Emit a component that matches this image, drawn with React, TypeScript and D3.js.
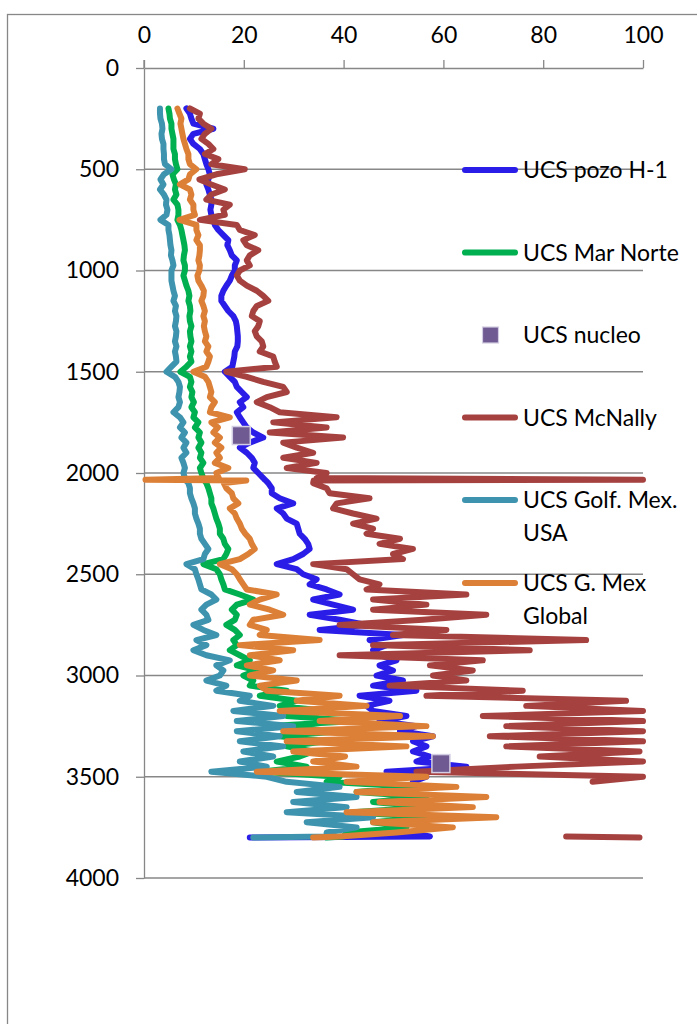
import React, { useEffect, useRef } from "react";
import * as d3 from "d3";

// depth (m), shared by every log series
const depths = [
  200, 225, 250, 275, 300, 325, 350, 375, 400, 425, 450, 475, 500, 525, 550, 575, 600, 625, 650, 675,
  700, 725, 750, 775, 800, 825, 850, 875, 900, 925, 950, 975, 1000, 1025, 1050, 1075, 1100, 1125, 1150, 1175,
  1200, 1225, 1250, 1275, 1300, 1325, 1350, 1375, 1400, 1425, 1450, 1475, 1500, 1525, 1550, 1575, 1600, 1625, 1650, 1675,
  1700, 1725, 1750, 1775, 1800, 1825, 1850, 1875, 1900, 1925, 1950, 1975, 2000, 2025, 2033, 2037, 2050, 2075, 2100, 2125, 2150, 2175,
  2200, 2225, 2250, 2275, 2300, 2325, 2350, 2375, 2400, 2425, 2450, 2475, 2500, 2525, 2550, 2575, 2600, 2625, 2650, 2675,
  2700, 2725, 2750, 2775, 2800, 2825, 2850, 2875, 2900, 2925, 2950, 2975, 3000, 3025, 3050, 3075, 3100, 3125, 3150, 3175,
  3200, 3225, 3250, 3275, 3300, 3325, 3350, 3375, 3400, 3425, 3450, 3475, 3500, 3525, 3550, 3575, 3600, 3625, 3650, 3675,
  3700, 3725, 3750, 3775, 3795, 3800,
];

const ucsPozoH1 = [
  8.5, 9.2, 9.5, 9.9, 13.9, 9.9, 9.2, 9.9, 11.2, 11.9, 12.2, 12.5, 12.9, 13.2, 12.9, 12.5, 12.9, 13.2, 13.5, 13.5,
  13.3, 13.5, 13.9, 14.2, 14.9, 15.9, 16.9, 16.7, 17.2, 17.6, 18.6, 18.2, 18.2, 17.6, 17.2, 16.5, 15.9, 15.5, 15.5, 16.2,
  16.9, 17.9, 18.4, 18.6, 18.7, 18.8, 18.8, 18.7, 18.2, 18.1, 17.9, 17.7, 16.2, 17.2, 18.2, 18.6, 19.6, 20.6, 19.2, 19.9,
  18.6, 19.2, 19.9, 20.6, 21.9, 23.9, 21.2, 19.2, 20.6, 21.6, 22.2, 21.9, 22.9, 23.9, 24.2, 24.4, 24.9, 25.6, 25.6, 27.2, 29.9, 26.6,
  27.9, 28.6, 30.6, 30.9, 31.2, 32.2, 32.9, 33.2, 31.9, 29.9, 26.6, 30.6, 31.9, 34.6, 33.2, 36.6, 39.2, 33.9, 37.9, 41.9,
  33.2, 39.2, 44.6, 35.2, 51.9, 45.2, 48.6, 45.9, 47.2, 50.6, 47.2, 49.9, 46.6, 51.9, 45.9, 54.6, 43.2, 49.2, 44.6, 45.9,
  52.6, 47.2, 54.6, 51.3, 57.9, 53.9, 56.6, 53.9, 57.3, 54.6, 64.6, 48.6, 56.6, 53.9, 55.3, 52.6, 53.9, 51.3, 52.6, 50.6,
  51.9, 49.9, 51.3, 52.6, 57.3, 21.2,
];

const ucsMarNorte = [
  4.9, 5.1, 5.2, 5.5, 5.5, 5.7, 5.9, 5.9, 5.9, 6.2, 6.2, 6.4, 6.7, 5.7, 6.0, 6.4, 6.2, 6.5, 5.9, 6.7,
  6.9, 6.9, 6.7, 7.2, 7.5, 7.7, 7.9, 8.1, 8.2, 8.0, 7.9, 8.2, 8.2, 7.9, 8.2, 8.5, 8.9, 9.1, 8.9, 9.2,
  9.3, 9.1, 9.2, 9.5, 9.2, 9.3, 9.5, 9.2, 9.5, 9.2, 9.5, 8.5, 7.3, 9.2, 9.5, 9.2, 9.7, 9.5, 10.0, 9.5,
  10.2, 9.9, 10.9, 10.2, 11.2, 10.9, 11.5, 10.9, 11.5, 11.2, 11.9, 11.2, 11.5, 11.9, 12.0, 12.1, 12.5, 12.9, 13.2, 13.5, 13.5, 13.9,
  14.2, 14.5, 14.9, 15.2, 15.2, 15.9, 16.2, 16.9, 16.5, 15.9, 11.9, 14.5, 15.2, 15.5, 15.9, 16.2, 19.2, 21.9, 18.6, 17.6,
  18.6, 18.2, 16.5, 18.2, 19.2, 17.9, 18.6, 17.2, 19.2, 21.2, 18.6, 22.6, 19.9, 21.9, 21.2, 28.6, 23.2, 30.6, 27.2, 36.6,
  28.6, 42.6, 24.6, 39.2, 27.2, 36.6, 28.6, 33.9, 31.2, 26.6, 32.6, 23.2, 39.2, 36.6, 53.9, 42.6, 56.6, 45.9, 56.6, 41.9,
  56.6, 45.9, 52.6, 40.6, 40.0, 36.6,
];

const ucsMcNally = [
  9.2, 11.2, 10.9, 11.9, 13.5, 12.2, 11.5, 12.9, 13.9, 12.2, 14.9, 13.5, 20.2, 14.5, 11.1, 13.5, 16.2, 13.5, 12.5, 17.2,
  15.9, 16.2, 11.2, 18.6, 19.2, 22.2, 19.9, 20.6, 22.9, 21.2, 20.6, 21.2, 19.2, 18.6, 19.2, 20.6, 22.6, 23.9, 24.9, 22.6,
  21.9, 21.6, 23.2, 22.9, 22.2, 22.6, 23.6, 23.9, 23.2, 25.9, 26.2, 26.6, 16.5, 20.6, 23.9, 27.9, 28.6, 24.6, 22.6, 25.2,
  27.2, 38.6, 25.9, 36.6, 25.2, 39.9, 27.9, 30.6, 33.9, 27.9, 34.6, 28.6, 36.6, 34.6, 100, 34.0, 33.9, 36.6, 37.2, 45.2, 38.6, 37.9,
  41.9, 46.6, 41.9, 45.9, 44.6, 51.3, 47.2, 53.9, 49.9, 51.9, 33.9, 40.6, 41.9, 43.2, 47.2, 44.6, 64.6, 45.9, 56.6, 45.9,
  68.6, 55.9, 39.2, 60.6, 49.9, 88.6, 45.9, 77.3, 39.2, 67.9, 57.3, 65.9, 57.9, 64.6, 49.2, 75.9, 56.6, 96.6, 76.6, 100,
  67.9, 100, 72.6, 100, 69.3, 100, 72.6, 99.3, 79.3, 100, 74.6, 54.6, 100, 89.9, null, null, null, null, null, null,
  null, null, null, null, 84.6, 99.3,
];

const ucsGolfMexUsa = [
  3.2, 3.2, 3.3, 3.6, 3.7, 3.5, 3.6, 3.9, 3.9, 4.0, 4.0, 4.2, 5.5, 4.0, 3.3, 3.9, 3.2, 4.0, 4.5, 4.4,
  4.7, 4.5, 3.3, 4.9, 4.9, 5.1, 5.2, 5.3, 5.5, 5.4, 5.7, 5.9, 5.5, 5.5, 5.5, 5.7, 5.9, 6.2, 5.9, 6.4,
  6.2, 6.5, 6.4, 6.2, 6.5, 6.4, 6.2, 6.5, 6.2, 6.4, 6.5, 5.5, 4.5, 6.2, 6.9, 7.2, 7.1, 6.9, 7.2, 6.9,
  5.9, 7.2, 7.9, 7.2, 8.2, 7.5, 8.5, 7.9, 8.5, 7.5, 7.9, 8.2, 7.9, 8.2, 8.3, 8.4, 8.9, 9.2, 9.2, 9.5, 9.9, 10.2,
  10.2, 10.5, 10.9, 11.2, 11.2, 11.5, 12.2, 12.9, 12.2, 11.9, 8.5, 10.2, 10.5, 10.9, 11.2, 11.5, 13.5, 14.5, 12.5, 11.5,
  12.5, 12.9, 9.9, 11.9, 14.5, 10.5, 12.5, 9.9, 12.5, 17.2, 14.5, 15.9, 15.2, 12.5, 16.5, 14.5, 21.2, 19.2, 25.9, 17.9,
  27.9, 18.6, 29.9, 18.6, 27.2, 19.2, 27.9, 19.9, 25.9, 19.2, 24.6, 13.5, 24.6, 28.6, 39.2, 30.6, 42.6, 29.9, 40.6, 28.6,
  45.9, 32.6, 42.6, 36.6, 36.6, 21.9,
];

const ucsGMexGlobal = [
  6.7, 7.1, 7.5, 7.3, 7.5, 7.7, 7.9, 8.2, 8.5, 8.9, 8.9, 9.2, 10.5, 9.2, 8.9, 7.2, 9.2, 9.5, 9.2, 9.9,
  9.9, 10.2, 7.1, 10.5, 10.5, 10.9, 10.5, 11.2, 11.2, 11.1, 10.9, 11.2, 11.1, 10.7, 10.9, 11.5, 12.0, 11.9, 11.5, 11.9,
  12.2, 11.9, 12.2, 12.0, 12.2, 12.5, 12.2, 12.9, 12.5, 13.2, 12.9, 12.5, 9.9, 12.2, 12.9, 13.2, 13.5, 13.2, 14.2, 13.5,
  13.2, 17.2, 13.5, 14.8, 13.9, 15.2, 14.2, 15.5, 14.5, 15.2, 14.2, 16.9, 14.5, 15.0, 0.3, 20.5, 16.0, 16.5, 17.6, 17.9, 18.9, 17.2,
  18.2, 18.6, 19.2, 19.6, 20.3, 21.2, 21.6, 22.2, 20.9, 19.2, 15.2, 17.6, 18.6, 19.2, 19.9, 20.6, 26.6, 23.2, 21.2, 25.2,
  27.9, 21.9, 21.2, 24.6, 23.2, 35.2, 19.2, 29.9, 21.2, 27.2, 20.6, 25.9, 21.2, 30.6, 23.2, 24.6, 39.2, 30.6, 44.6, 27.2,
  51.3, 35.2, 56.6, 27.9, 57.9, 28.6, 52.6, 29.9, 40.3, 33.9, 42.6, 22.6, 56.6, 40.6, 62.6, 42.6, 68.6, 47.2, 65.9, 40.6,
  70.6, 45.9, 61.9, 50.6, 39.2, 33.9,
];

// core samples
const nucleoUcs = [19.5, 59.5];
const nucleoDepth = [1815, 3435];

const xTicks = [0, 20, 40, 60, 80, 100];
const yTicks = [0, 500, 1000, 1500, 2000, 2500, 3000, 3500, 4000];

const FONT = "Lato, 'Open Sans', sans-serif";
const AXIS_GRAY = "#878787";
const LINE_W = 6;

function drawChart(svgEl: SVGSVGElement) {
  const svg = d3.select(svgEl);
  svg.selectAll("*").remove();

  const xScale = d3.scaleLinear().domain([0, 100]).range([144, 643]);
  const yScale = d3.scaleLinear().domain([0, 4000]).range([68, 878]);

  // chart frame (runs past the right/bottom edge of the page)
  svg.append("rect")
    .attr("x", 7.5).attr("y", 14.5)
    .attr("width", 900).attr("height", 1200)
    .attr("fill", "#fff")
    .attr("stroke", AXIS_GRAY).attr("stroke-width", 1.3);

  // horizontal gridlines
  svg.append("g")
    .selectAll("line")
    .data(yTicks.filter((t) => t > 0))
    .join("line")
    .attr("x1", 144).attr("x2", 643)
    .attr("y1", (d) => yScale(d)).attr("y2", (d) => yScale(d))
    .attr("stroke", AXIS_GRAY).attr("stroke-width", 1.3);

  const xAxis = d3.axisTop(xScale).tickValues(xTicks).tickSize(8).tickSizeOuter(0).tickPadding(17)
    .tickFormat(d3.format("d"));
  const yAxis = d3.axisLeft(yScale).tickValues(yTicks).tickSize(8).tickSizeOuter(0).tickPadding(17)
    .tickFormat(d3.format("d"));

  const xg = svg.append("g").attr("transform", "translate(0,68)").call(xAxis);
  const yg = svg.append("g").attr("transform", "translate(144,0)").call(yAxis);
  for (const g of [xg, yg]) {
    g.select(".domain").attr("stroke", AXIS_GRAY).attr("stroke-width", 1.3);
    g.selectAll(".tick line").attr("stroke", AXIS_GRAY).attr("stroke-width", 1.3);
    g.selectAll(".tick text")
      .attr("fill", "#000")
      .style("font-family", FONT)
      .style("font-size", "23px");
  }
  // extend left axis line up to the top tick
  yg.append("line").attr("x1", 0).attr("x2", 0).attr("y1", 60).attr("y2", 68)
    .attr("stroke", AXIS_GRAY).attr("stroke-width", 1.3);

  const series = [
    { name: "UCS pozo H-1", values: ucsPozoH1, color: "#2a1de8" },
    { name: "UCS Mar Norte", values: ucsMarNorte, color: "#00b050" },
    { name: "UCS McNally", values: ucsMcNally, color: "#a54240" },
    { name: "UCS Golf. Mex. USA", values: ucsGolfMexUsa, color: "#3e94ae" },
    { name: "UCS G. Mex Global", values: ucsGMexGlobal, color: "#dd8037" },
  ];

  const line = d3.line<number | null>()
    .defined((v) => v != null)
    .x((v) => xScale(v as number))
    .y((_v, i) => yScale(depths[i]));

  svg.append("g")
    .selectAll("path")
    .data(series)
    .join("path")
    .attr("d", (s) => line(s.values))
    .attr("fill", "none")
    .attr("stroke", (s) => s.color)
    .attr("stroke-width", LINE_W)
    .attr("stroke-linecap", "round")
    .attr("stroke-linejoin", "round");

  // core markers
  svg.append("g")
    .selectAll("rect")
    .data(nucleoUcs)
    .join("rect")
    .attr("x", (d) => xScale(d) - 9)
    .attr("y", (_d, i) => yScale(nucleoDepth[i]) - 9)
    .attr("width", 18).attr("height", 18)
    .attr("fill", "#6f5a92")
    .attr("stroke", "#d2cde2").attr("stroke-width", 1.5);

  // legend
  const legendItems = [
    { lines: ["UCS pozo H-1"], color: "#2a1de8", y: 170, marker: false },
    { lines: ["UCS Mar Norte"], color: "#00b050", y: 252.5, marker: false },
    { lines: ["UCS nucleo"], color: "#6f5a92", y: 335, marker: true },
    { lines: ["UCS McNally"], color: "#a54240", y: 417.5, marker: false },
    { lines: ["UCS Golf. Mex.", "USA"], color: "#3e94ae", y: 500, marker: false },
    { lines: ["UCS G. Mex", "Global"], color: "#dd8037", y: 583, marker: false },
  ];
  const lg = svg.append("g");
  legendItems.forEach((item) => {
    if (item.marker) {
      lg.append("rect")
        .attr("x", 482.5).attr("y", item.y - 8)
        .attr("width", 16).attr("height", 16)
        .attr("fill", item.color)
        .attr("stroke", "#d2cde2").attr("stroke-width", 1.2);
    } else {
      lg.append("line")
        .attr("x1", 465).attr("x2", 515)
        .attr("y1", item.y).attr("y2", item.y)
        .attr("stroke", item.color).attr("stroke-width", LINE_W)
        .attr("stroke-linecap", "round");
    }
    const t = lg.append("text")
      .attr("x", 523).attr("y", item.y)
      .attr("fill", "#000")
      .style("font-family", FONT)
      .style("font-size", "23px");
    item.lines.forEach((l, j) => {
      t.append("tspan")
        .attr("x", 523)
        .attr("y", item.y + j * 33)
        .attr("dy", "0.35em")
        .text(l);
    });
  });
}

export default function App() {
  const svgRef = useRef<SVGSVGElement>(null);
  useEffect(() => {
    if (svgRef.current) drawChart(svgRef.current);
  }, []);
  return (
    <svg
      ref={svgRef}
      width={697}
      height={1024}
      style={{ position: "absolute", left: 0, top: 0, display: "block", background: "#fff" }}
    />
  );
}
